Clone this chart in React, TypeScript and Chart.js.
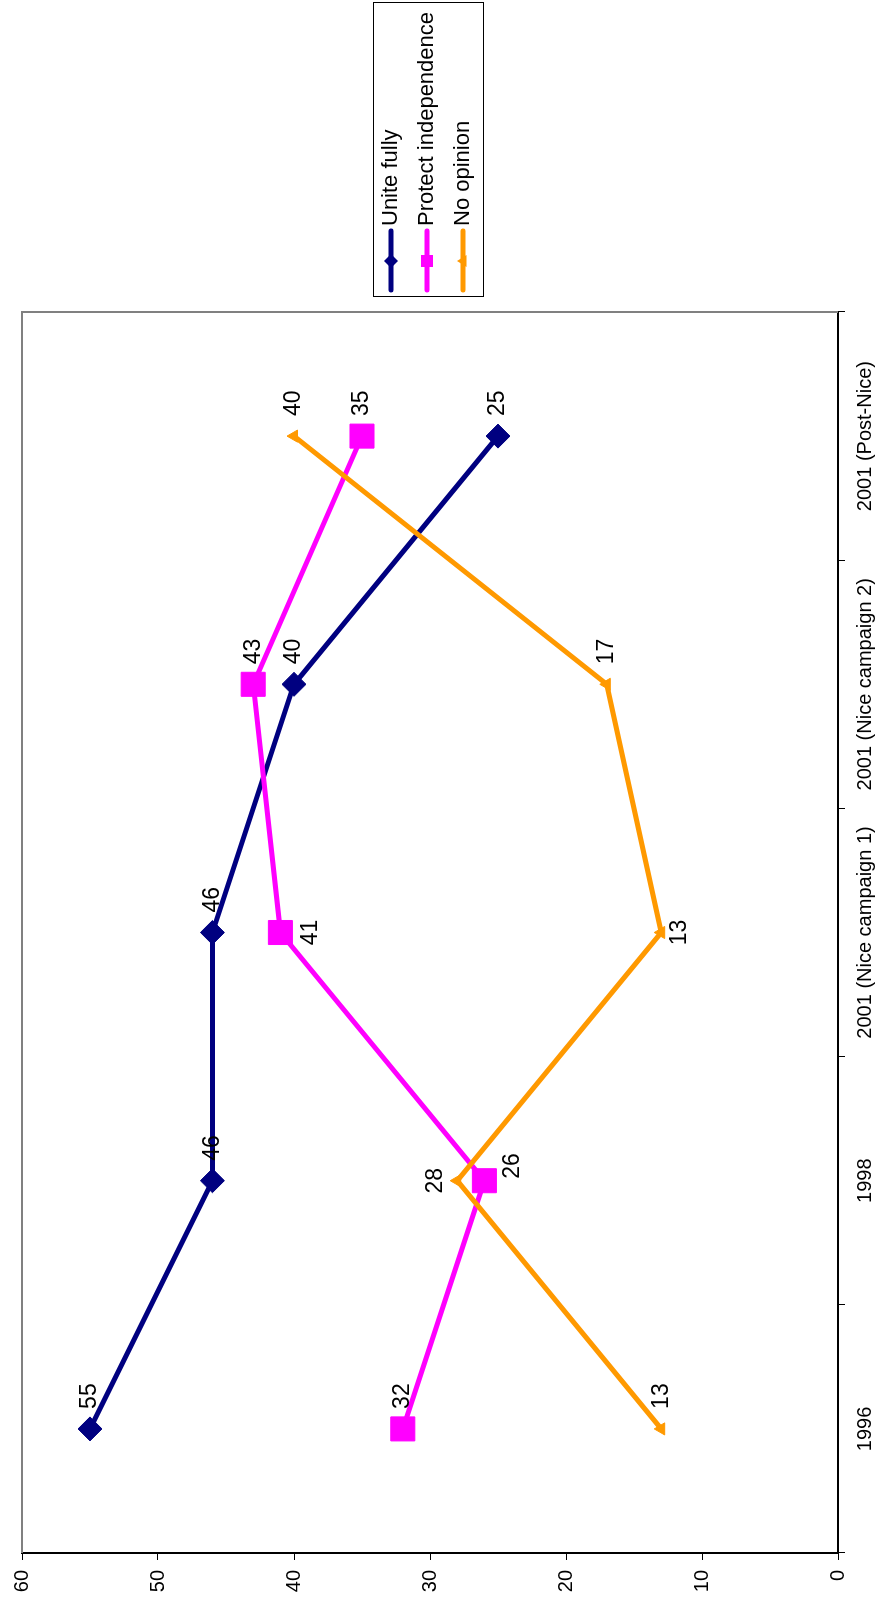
import React, { useEffect, useRef } from "react";
import { Chart, registerables } from "chart.js";

Chart.register(...registerables);

// ---- data ----
const categories = [
  "1996",
  "1998",
  "2001 (Nice campaign 1)",
  "2001 (Nice campaign 2)",
  "2001 (Post-Nice)",
];
const uniteFully = [55, 46, 46, 40, 25];
const protectIndependence = [32, 26, 41, 43, 35];
const noOpinion = [13, 28, 13, 17, 40];
const seriesNames = ["Unite fully", "Protect independence", "No opinion"];
const valueTicks = [0, 10, 20, 30, 40, 50, 60];

// ---- styles ----
const W = 1603;
const H = 882;
const FONT = '"Liberation Sans", Arial, Helvetica, sans-serif';
const NAVY = "#000080";
const MAGENTA = "#FF00FF";
const ORANGE = "#FF9900";
const colors = [NAVY, MAGENTA, ORANGE];
const markers = ["diamond", "square", "triangle"];

// label placement overrides (dataset-index) relative to the point
const labelPlacement: Record<string, { dx: number; dy: number; align: CanvasTextAlign }> = {
  "1-1": { dx: 2, dy: 28, align: "left" },
  "2-1": { dx: 0, dy: -22, align: "center" },
  "1-2": { dx: 0, dy: 30, align: "center" },
  "2-2": { dx: 0, dy: 18, align: "center" },
};

const plotBorderPlugin = {
  id: "plotBorder",
  beforeDatasetsDraw(chart: any) {
    const { ctx, chartArea: a } = chart;
    ctx.save();
    ctx.strokeStyle = "#808080";
    ctx.lineWidth = 2;
    ctx.beginPath();
    ctx.moveTo(a.left, a.top);
    ctx.lineTo(a.right, a.top);
    ctx.lineTo(a.right, a.bottom);
    ctx.stroke();
    ctx.restore();
  },
};

const dataLabelPlugin = {
  id: "dataLabels",
  afterDatasetsDraw(chart: any) {
    const ctx = chart.ctx;
    ctx.save();
    ctx.font = `23px ${FONT}`;
    ctx.fillStyle = "#000";
    ctx.textBaseline = "middle";
    chart.data.datasets.forEach((ds: any, di: number) => {
      const meta = chart.getDatasetMeta(di);
      meta.data.forEach((pt: any, i: number) => {
        const p = labelPlacement[`${di}-${i}`] || { dx: 20, dy: 0, align: "left" as CanvasTextAlign };
        ctx.textAlign = p.align;
        ctx.fillText(String(ds.data[i]), pt.x + p.dx, pt.y + p.dy);
      });
    });
    ctx.restore();
  },
};

function drawMarker(ctx: CanvasRenderingContext2D, kind: string, x: number, y: number, color: string) {
  ctx.fillStyle = color;
  ctx.beginPath();
  if (kind === "diamond") {
    const r = 7;
    ctx.moveTo(x - r, y);
    ctx.lineTo(x, y - r);
    ctx.lineTo(x + r, y);
    ctx.lineTo(x, y + r);
    ctx.closePath();
  } else if (kind === "square") {
    ctx.rect(x - 6, y - 6, 12, 12);
  } else {
    const r = 6;
    ctx.moveTo(x, y - r);
    ctx.lineTo(x + r, y + r * 0.6);
    ctx.lineTo(x - r, y + r * 0.6);
    ctx.closePath();
  }
  ctx.fill();
}

const boxLegendPlugin = {
  id: "boxLegend",
  afterDraw(chart: any) {
    const { ctx, chartArea: a } = chart;
    const bw = 294;
    const bh = 110;
    const bx = a.right + 15;
    const by = Math.round((a.top + a.bottom) / 2 - bh / 2) - 2;
    ctx.save();
    ctx.fillStyle = "#fff";
    ctx.fillRect(bx, by, bw, bh);
    ctx.strokeStyle = "#000";
    ctx.lineWidth = 1;
    ctx.strokeRect(bx + 0.5, by + 0.5, bw, bh);
    seriesNames.forEach((name, i) => {
      const cy = by + 18 + i * 36;
      ctx.strokeStyle = colors[i];
      ctx.lineWidth = 5;
      ctx.lineCap = "round";
      ctx.beginPath();
      ctx.moveTo(bx + 7, cy);
      ctx.lineTo(bx + 66, cy);
      ctx.stroke();
      drawMarker(ctx, markers[i], bx + 36, cy, colors[i]);
      ctx.fillStyle = "#000";
      ctx.font = `22px ${FONT}`;
      ctx.textAlign = "left";
      ctx.textBaseline = "middle";
      ctx.fillText(name, bx + 71, cy);
    });
    ctx.restore();
  },
};

export default function App() {
  const ref = useRef<HTMLCanvasElement>(null);

  useEffect(() => {
    if (!ref.current) return;
    const chart = new Chart(ref.current, {
      type: "line",
      data: {
        labels: categories,
        datasets: [
          {
            label: seriesNames[0],
            data: uniteFully,
            borderColor: NAVY,
            backgroundColor: NAVY,
            borderWidth: 5,
            pointStyle: "rectRot",
            pointRadius: 12,
            pointBorderWidth: 1,
            pointBackgroundColor: NAVY,
            pointBorderColor: NAVY,
            tension: 0,
            order: 2,
          },
          {
            label: seriesNames[1],
            data: protectIndependence,
            borderColor: MAGENTA,
            backgroundColor: MAGENTA,
            borderWidth: 5,
            pointStyle: "rect",
            pointRadius: 17,
            pointBorderWidth: 1,
            pointBackgroundColor: MAGENTA,
            pointBorderColor: MAGENTA,
            tension: 0,
            order: 1,
          },
          {
            label: seriesNames[2],
            data: noOpinion,
            borderColor: ORANGE,
            backgroundColor: ORANGE,
            borderWidth: 5,
            pointStyle: "triangle",
            pointRadius: 7,
            pointBorderWidth: 1,
            pointBackgroundColor: ORANGE,
            pointBorderColor: ORANGE,
            tension: 0,
            order: 0,
          },
        ],
      },
      options: {
        responsive: false,
        devicePixelRatio: 1,
        animation: false,
        layout: { padding: { left: 0, right: W - 1291, top: 22, bottom: 0 } },
        plugins: {
          legend: { display: false },
          tooltip: { enabled: false },
          title: { display: false },
        },
        scales: {
          x: {
            type: "category",
            offset: true,
            grid: {
              offset: true,
              drawOnChartArea: false,
              drawTicks: true,
              tickLength: 7,
              color: "#000",
              lineWidth: 1,
            },
            border: { display: true, color: "#000", width: 2 },
            ticks: {
              color: "#000",
              font: { family: FONT, size: 20 },
              padding: 8,
              maxRotation: 0,
              minRotation: 0,
              autoSkip: false,
            },
            afterFit: (s: any) => {
              s.height = 44;
            },
          },
          y: {
            type: "linear",
            min: 0,
            max: 60,
            afterBuildTicks: (s: any) => {
              s.ticks = valueTicks.map((v) => ({ value: v }));
            },
            grid: {
              drawOnChartArea: false,
              drawTicks: true,
              tickLength: 7,
              color: "#000",
              lineWidth: 1,
            },
            border: { display: true, color: "#000", width: 2 },
            ticks: {
              color: "#000",
              font: { family: FONT, size: 20 },
              padding: 10,
            },
            afterFit: (s: any) => {
              s.width = 50;
            },
          },
        },
      },
      plugins: [plotBorderPlugin, dataLabelPlugin, boxLegendPlugin],
    });
    return () => chart.destroy();
  }, []);

  return (
    <div
      style={{
        position: "fixed",
        left: 0,
        top: 0,
        width: W,
        height: H,
        transformOrigin: "0 0",
        transform: `translateY(${W}px) rotate(-90deg)`,
        background: "#fff",
      }}
    >
      <canvas ref={ref} width={W} height={H} style={{ display: "block", width: W, height: H }} />
    </div>
  );
}
